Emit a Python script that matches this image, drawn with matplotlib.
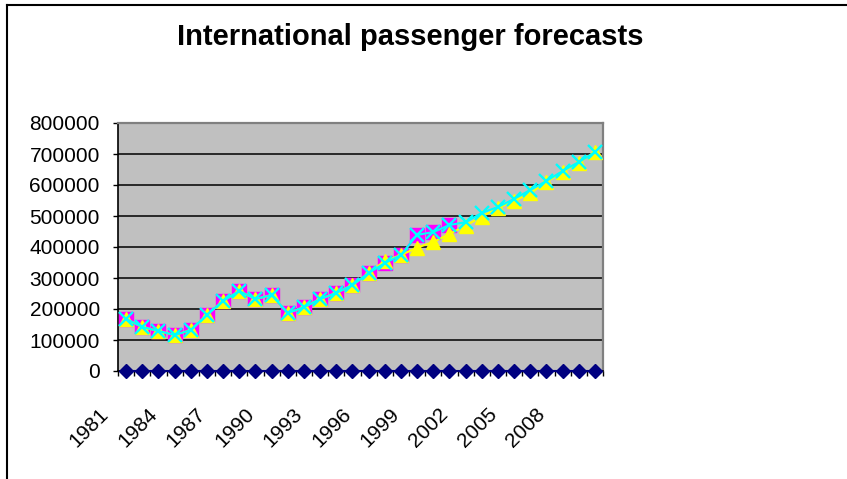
import matplotlib.pyplot as plt
from matplotlib.lines import Line2D
from matplotlib.transforms import ScaledTranslation

plt.rcParams['font.family'] = ['Liberation Sans', 'DejaVu Sans']

# Data
years = list(range(1981, 2011))
zero_series = [0] * len(years)
actual = [168000, 142000, 129000, 116000, 132000, 181000, 226000, 258000,
          232000, 245000, 187000, 206000, 232000, 252000, 277000, 316000,
          348000, 374000, 439000, 448000, 471000]
forecast_a = [168000, 142000, 129000, 116000, 132000, 181000, 226000, 258000,
              232000, 245000, 187000, 206000, 232000, 252000, 277000, 316000,
              355000, 374000, 398000, 416000, 442000, 469000, 498000, 526000,
              549000, 573000, 610000, 642000, 672000, 707000]
forecast_b = actual + [480000, 510000, 529000, 555000, 584000, 613000,
                       645000, 674000, 706000]
label_years = years[::3]

x = list(range(len(years)))

fig = plt.figure(figsize=(8.47, 4.79), dpi=100)
ax = fig.add_axes([118 / 847, 1 - 371 / 479, 485 / 847, 248 / 479])
ax.set_facecolor('#C0C0C0')

# Series (Excel default colours)
ax.plot(x, zero_series, color='#000080', marker='D', markersize=7.5,
        linewidth=1.5, clip_on=False, zorder=3)
ax.plot(x[:len(actual)], actual, color='#FF00FF', marker='s', markersize=9.5,
        linewidth=1.5, zorder=4)
ax.plot(x, forecast_a, color='#FFFF00', marker='^', markersize=10.5,
        linewidth=1.5, zorder=5)
ax.plot(x, forecast_b, color='#00FFFF', marker='x', markersize=9.5,
        markeredgewidth=1.7, linewidth=1.5, zorder=6)

ax.set_xlim(-0.5, len(years) - 0.5)
ax.set_ylim(0, 800000)
ax.set_yticks(range(0, 800001, 100000))
ax.tick_params(axis='y', direction='out', length=3.6, width=1, pad=9.5,
               labelsize=15)
ax.yaxis.grid(True, color='black', linewidth=1.1)
ax.set_axisbelow(True)

# Category ticks between points, labels every 3rd year
ax.set_xticks([i - 0.5 for i in range(len(years) + 1)])
ax.set_xticklabels([])
ax.set_xticks([x[years.index(y)] for y in label_years], minor=True)
ax.set_xticklabels([str(y) for y in label_years], minor=True,
                   rotation=45, ha='right', rotation_mode='anchor',
                   fontsize=15)
ax.tick_params(axis='x', which='major', direction='out', length=3.6, width=1)
ax.tick_params(axis='x', which='minor', length=0, pad=12)
shift = ScaledTranslation(-27 / 100, -17 / 100, fig.dpi_scale_trans)
for lbl in ax.get_xticklabels(minor=True):
    lbl.set_transform(lbl.get_transform() + shift)

for side in ['top', 'right']:
    ax.spines[side].set_color('#808080')
    ax.spines[side].set_linewidth(1.6)
for side in ['left', 'bottom']:
    ax.spines[side].set_color('black')
    ax.spines[side].set_linewidth(1.2)

fig.text(410 / 847, 1 - 37 / 479, 'International passenger forecasts',
         ha='center', va='center', fontsize=21, fontweight='bold')

# Chart area border (left and top edges visible)
fig.add_artist(Line2D([7 / 847, 7 / 847], [0, 1 - 5 / 479],
                      transform=fig.transFigure, color='black', linewidth=1.5))
fig.add_artist(Line2D([7 / 847, 1], [1 - 5 / 479, 1 - 5 / 479],
                      transform=fig.transFigure, color='black', linewidth=1.5))

fig.savefig('out.png', dpi=100)
